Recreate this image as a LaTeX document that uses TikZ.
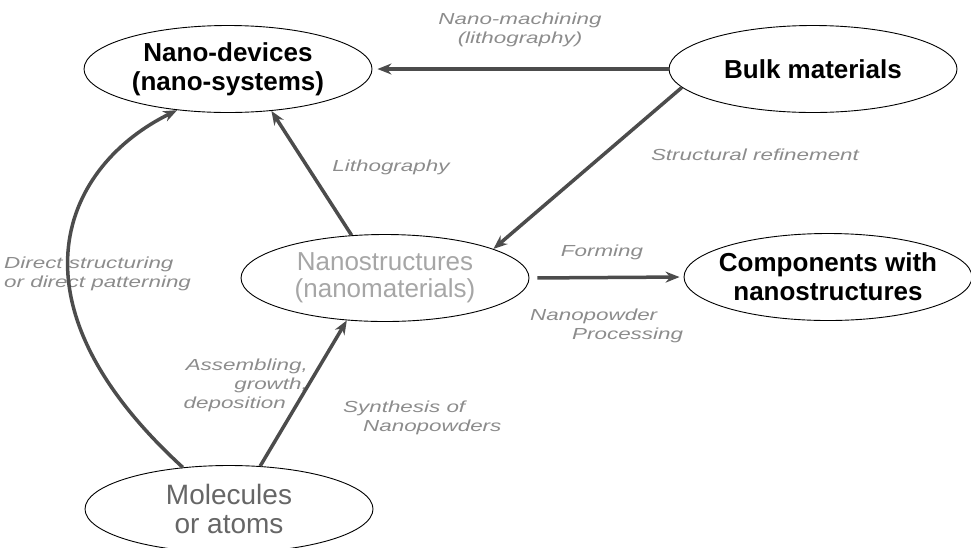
\documentclass[tikz,border=0pt]{standalone}
\usepackage{fontspec}
\setmainfont{Liberation Sans}
\newfontfamily\lblfont[FakeStretch=1.4]{Liberation Sans}
\usepackage{tikz}
\usetikzlibrary{arrows.meta,shapes.geometric}
\tikzset{>={Stealth[length=14pt,width=11pt]}}
\tikzset{
    blob/.style={ellipse,draw,line width=0.9pt,minimum width=288pt,minimum height=87pt,inner sep=0pt,align=center},
    mainblob/.style={blob,font=\bfseries\fontsize{26}{29}\selectfont},
    paleblob/.style={blob,font=\fontsize{26}{27}\selectfont,text=black!35},
    edgelabel/.style={rectangle,draw=none,inner sep=0pt,text=black!45,font=\lblfont\itshape\fontsize{16}{19}\selectfont},
    directed/.style={arrows={->},line width=3.5pt,draw=black!70},
}

\begin{document}
\begin{tikzpicture}[x=1pt,y=-1pt]
		\useasboundingbox (0,0) rectangle (971,547);
		\node[mainblob] (devices) at (228,69) {Nano-devices\\(nano-systems)};
		\node[mainblob] (bulk) at (813,69) {Bulk materials};
		\node[paleblob] (nanostr) at (385,278) {Nanostructures\\(nanomaterials)};
		\node[mainblob,inner xsep=-8pt] (comp) at (828,277) {Components with\\nanostructures};
		\node[paleblob,text=black!60,font=\fontsize{28}{29}\selectfont] (mol) at (229,509) {Molecules\\or atoms};

		\node[edgelabel,align=center] (lblmach) at (520,30) {Nano-machining\\(lithography)};
		\node[edgelabel] (lbllith) at (391,167) {Lithography};
		\node[edgelabel] (lblrefine) at (755,155) {Structural refinement};
		\node[edgelabel,anchor=west,align=left] (lbldirect) at (4,274) {Direct structuring\\or direct patterning};
		\node[edgelabel,anchor=east,align=right] (lblassem) at (308,385) {Assembling,\\growth,\\deposition\hspace*{22pt}};
		\node[edgelabel,anchor=west,align=left] (lblsynth) at (343,418) {Synthesis of\\\hspace*{20pt}Nanopowders};
		\node[edgelabel] (lblform) at (602,252) {Forming};
		\node[edgelabel,anchor=west,align=left] (lblproc) at (530,326) {Nanopowder\\\hspace*{42pt}Processing};

		\draw[directed,shorten >=5pt] (bulk.west) to (devices.east);
		\draw[directed] (bulk.188) to (nanostr.15);
		\draw[directed] (nanostr.128) to (devices.-44);
		\draw[directed,shorten <=8pt,shorten >=4pt] (nanostr.east) to (comp.west);
		\draw[directed] (mol.54) to (nanostr.228);
		\draw[directed] (mol.138) .. controls (0,300) and (65,165) .. (devices.219);
	\end{tikzpicture}
\end{document}
